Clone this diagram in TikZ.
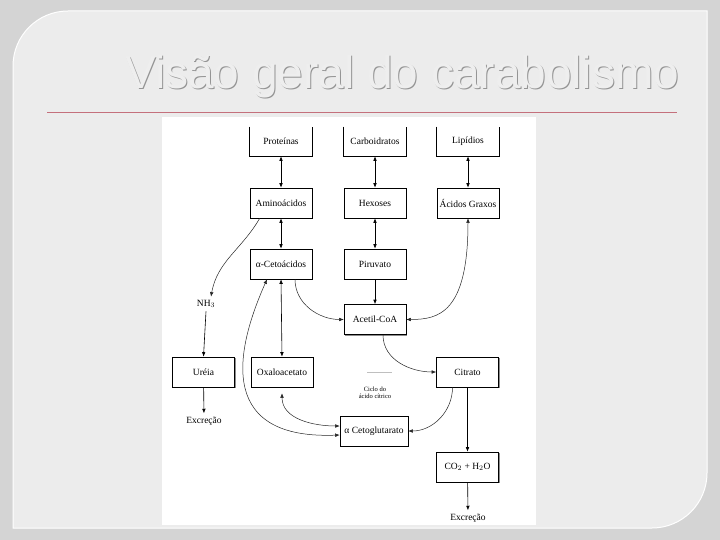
\documentclass[tikz,border=0pt]{standalone}
\usepackage{fontspec}
\setmainfont{Liberation Serif}
\newfontfamily\titlefont{Liberation Sans}
\usepackage{tikz}
\usetikzlibrary{arrows.meta, positioning, calc, shadows}
\definecolor{bgout}{HTML}{D4D4D4}
\definecolor{panel}{HTML}{ECECEC}
\definecolor{ttltext}{HTML}{EEEEEE}
\definecolor{rulered}{RGB}{196,112,124}

\begin{document}
\begin{tikzpicture}[x=1pt, y=1pt, >={Latex[length=4.5pt,width=3.6pt]},
                    every node/.style={font=\fontsize{9.5}{10}\selectfont},
                    box/.style={draw, fill=white, line width=0.6pt, minimum width=62pt,
                      minimum height=30pt, inner sep=0pt,
                      drop shadow={shadow xshift=1.3pt, shadow yshift=-1.3pt, fill=black!45, opacity=1}},
                    topbox/.style={box, draw=none, minimum height=29pt},
                    lnk/.style={line width=0.6pt},
                    crv/.style={line width=0.5pt, black!85},
                    ttl/.style={anchor=base west, inner sep=0pt, font=\titlefont\fontsize{46}{46}\selectfont}]
  \useasboundingbox (0,0) rectangle (720,-540);
  \fill[bgout] (0,0) rectangle (720,-540);
  \filldraw[fill=panel, draw=white, line width=1pt] (13,-528) -- (13,-66)
        arc[start angle=180, end angle=90, radius=55] -- (707,-11) -- (707,-473)
        arc[start angle=0, end angle=-90, radius=55] -- cycle;
  \node[ttl, text=black!42] at (126,-90) {Visão geral do carabolismo};
  \node[ttl, text=ttltext] (title) at (125,-89) {Visão geral do carabolismo};
  \draw[rulered, line width=0.9pt] (47,-112) -- (677,-112);
  \fill[white] (162,-117) rectangle (536,-525);

  \node[topbox] (prot) at (281,-141.5) {Proteínas};
  \node[topbox] (carb) at (375,-141.5) {Carboidratos};
  \node[topbox] (lip)  at (468,-141.5) {Lipídios};
  \foreach \n in {prot, carb, lip}
    \draw[lnk] (\n.north west) -- (\n.south west) -- (\n.south east) -- (\n.north east);
  \node[box] (amino) at (281,-203) {Aminoácidos};
  \node[box] (hex)   at (375,-203) {Hexoses};
  \node[box] (acgr)  at (468,-203) {Ácidos Graxos};
  \node[box] (ceto)  at (281,-264) {α-Cetoácidos};
  \node[box] (piru)  at (375,-264) {Piruvato};
  \node[box] (acetil) at (375,-319.5) {Acetil-CoA};
  \node[box] (ureia) at (203.5,-372) {Uréia};
  \node[box] (oxalo) at (282,-372) {Oxaloacetato};
  \node[box] (citr)  at (467.5,-372) {Citrato};
  \node[box, minimum width=68pt] (cetoglu) at (374,-431) {α Cetoglutarato};
  \node[box] (co2)   at (467.5,-467) {CO$_2$ + H$_2$O};
  \node (nh3)  at (206,-304) {NH$_3$};
  \node (exc1) at (204,-421) {Excreção};
  \node (exc2) at (468,-518) {Excreção};
  \node[font=\fontsize{6.5}{7}\selectfont, align=center] (ciclo) at (375,-393) {Ciclo do\\ácido cítrico};

  \draw[lnk, <->] (prot) -- (amino);
  \draw[lnk, <->] (carb) -- (hex);
  \draw[lnk, <->] (lip) -- (acgr);
  \draw[lnk, <->] (amino) -- (ceto);
  \draw[lnk, <->] (hex) -- (piru);
  \draw[lnk, ->] (piru) -- (acetil);
  \draw[lnk, <->] (ceto.south) -- (oxalo.north);
  \draw[lnk, ->] (nh3.south) -- (ureia.north);
  \draw[lnk, ->] (ureia) -- (exc1);
  \draw[lnk, ->] (citr) -- (co2);
  \draw[lnk, ->] (co2) -- (exc2);

  \draw[crv, ->] ([xshift=10pt]amino.south west) to[out=-120, in=80] ([xshift=5pt]nh3.north);
  \draw[crv, ->] ([xshift=14pt]ceto.south) to[out=-90, in=180] (acetil.west);
  \draw[crv, <->] (acgr.south) .. controls +(0,-95) and +(32,0) .. (acetil.east);
  \draw[crv, ->] ([xshift=8pt]acetil.south) to[out=-90, in=180] (citr.west);
  \draw[black!25, line width=0.5pt] (367,-372) -- (392,-372);
  \draw[crv, ->] ([xshift=-15pt]citr.south) to[out=-90, in=0] (cetoglu.east);
  \draw[crv, <->] ([yshift=-6pt]oxalo.south) to[out=-90, in=180] ([yshift=5pt]cetoglu.west);
  \draw[crv, <->] ([xshift=-14pt]ceto.south) .. controls (240,-340) and (210,-440)
        .. ([yshift=-4pt]cetoglu.west);
\end{tikzpicture}
\end{document}
